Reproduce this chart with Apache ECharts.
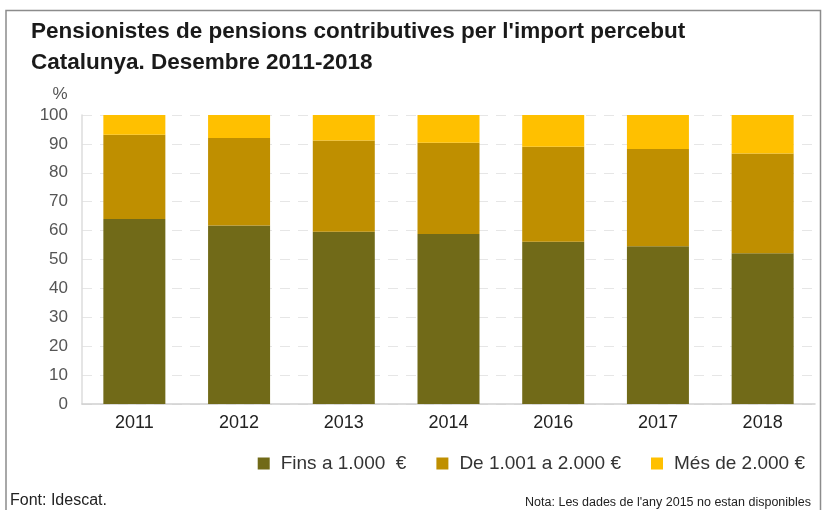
<!DOCTYPE html>
<html>
<head>
<meta charset="utf-8">
<script src="https://cdn.jsdelivr.net/npm/echarts@6/dist/echarts.min.js"></script>
<style>
  html, body { margin: 0; padding: 0; background: #fff; }
  #chart { width: 822px; height: 510px; }
</style>
</head>
<body>
<div id="chart"></div>
<script>
// anys (2015 no disponible)
let years = ['2011', '2012', '2013', '2014', '2016', '2017', '2018'];
// % de pensionistes per tram d'import
let fins1000 = [64.0, 61.8, 59.6, 58.8, 56.1, 54.6, 52.2];
let de1001a2000 = [29.2, 30.2, 31.6, 31.6, 32.9, 33.6, 34.5];
let mesDe2000 = [6.8, 8.0, 8.8, 9.6, 11.0, 11.8, 13.3];
let seriesNames = ['Fins a 1.000  €', 'De 1.001 a 2.000 €', 'Més de 2.000 €'];
let colors = ['#716a18', '#bf8f00', '#ffc000'];

let ec = echarts.init(document.getElementById('chart'));

let barSeries = [fins1000, de1001a2000, mesDe2000].map((vals, i) => {
    return {
        name: seriesNames[i],
        type: 'bar',
        stack: 'total',
        barWidth: 62,
        itemStyle: { color: colors[i] },
        data: vals
    };
});

let options = {
    animation: false,
    title: {
        text: "Pensionistes de pensions contributives per l'import percebut\nCatalunya. Desembre 2011-2018",
        left: 26,
        top: 11,
        textStyle: {
            fontFamily: 'Liberation Sans',
            fontSize: 22.5,
            fontWeight: 'bold',
            color: '#1a1a1a',
            lineHeight: 31
        }
    },
    color: colors,
    legend: {
        right: 12,
        top: 449,
        itemWidth: 12,
        itemHeight: 12,
        itemGap: 30,
        icon: 'rect',
        textStyle: {
            fontFamily: 'Liberation Sans',
            fontSize: 19,
            color: '#333',
            padding: [0, 0, 0, 6]
        },
        data: seriesNames
    },
    grid: {
        left: 82,
        right: 7,
        top: 115,
        bottom: 106
    },
    xAxis: {
        type: 'category',
        data: years,
        axisLine: { show: true, lineStyle: { color: '#cfcfcf', width: 1.5 } },
        axisTick: { show: false },
        axisLabel: {
            margin: 10,
            fontFamily: 'Liberation Sans',
            fontSize: 18,
            color: '#222'
        }
    },
    yAxis: {
        type: 'value',
        min: 0,
        max: 100,
        interval: 10,
        name: '%',
        nameLocation: 'end',
        nameGap: 12,
        nameTextStyle: {
            fontFamily: 'Liberation Sans',
            fontSize: 17,
            color: '#555',
            padding: [0, 44, 0, 0]
        },
        axisLine: { show: true, lineStyle: { color: '#dcdcdc', width: 1.5 } },
        axisTick: { show: false },
        splitLine: { show: true, lineStyle: { color: '#e6e6e6', type: [10, 8] } },
        axisLabel: {
            margin: 14,
            fontFamily: 'Liberation Sans',
            fontSize: 17,
            color: '#555'
        }
    },
    graphic: [
        {
            type: 'polyline',
            silent: true,
            shape: { points: [[6, 510], [6, 10.5], [820.5, 10.5], [820.5, 510]] },
            style: { stroke: '#8c8c8c', lineWidth: 1.5, fill: null }
        },
        {
            type: 'text',
            left: 10,
            top: 493,
            style: {
                text: 'Font: Idescat.',
                fontFamily: 'Liberation Sans',
                fontSize: 16,
                fill: '#222'
            }
        },
        {
            type: 'text',
            right: 11,
            top: 496,
            style: {
                text: "Nota: Les dades de l'any 2015 no estan disponibles",
                fontFamily: 'Liberation Sans',
                fontSize: 12.5,
                fill: '#222'
            }
        }
    ],
    series: barSeries
};

ec.setOption(options);
</script>
</body>
</html>
